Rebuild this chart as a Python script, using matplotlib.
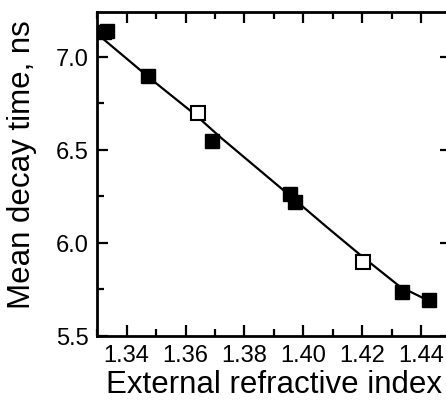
import matplotlib
matplotlib.use("Agg")
import matplotlib.pyplot as plt
from matplotlib.ticker import MultipleLocator, FixedLocator

plt.rcParams['font.family'] = ['Liberation Sans', 'DejaVu Sans']

# Filled squares
x_filled = [1.3325, 1.3335, 1.3472, 1.3689, 1.3954, 1.3971, 1.4333, 1.4427]
y_filled = [7.13, 7.14, 6.895, 6.545, 6.265, 6.22, 5.738, 5.695]
# Open squares
x_open = [1.3643, 1.4203]
y_open = [6.695, 5.897]
# Fit line
x_fit = [1.3325, 1.3485, 1.3632, 1.3717, 1.3950, 1.4079, 1.4202, 1.4327, 1.4430]
y_fit = [7.09, 6.877, 6.69, 6.569, 6.259, 6.085, 5.923, 5.765, 5.685]

xticks = [1.34, 1.36, 1.38, 1.40, 1.42, 1.44]
xticklabels = ["1.34", "1.36", "1.38", "1.40", "1.42", "1.44"]
yticks = [5.5, 6.0, 6.5, 7.0]
yticklabels = ["5.5", "6.0", "6.5", "7.0"]

fig = plt.figure(figsize=(4.46, 4.02), dpi=100)
ax = fig.add_axes([97/446, 1-337/402, (451-97)/446, (337-13)/402])

ax.plot(x_fit, y_fit, color='black', lw=1.6, zorder=2)
ax.plot(x_filled, y_filled, 's', color='black', ms=10.5, mec='black', zorder=3)
ax.plot(x_open, y_open, 's', mfc='white', mec='black', ms=10, mew=1.5, zorder=3)

ax.set_xlim(1.33, 1.45)
ax.set_ylim(5.5, 7.24)
ax.xaxis.set_major_locator(FixedLocator(xticks))
ax.set_xticklabels(xticklabels)
ax.xaxis.set_minor_locator(MultipleLocator(0.01))
ax.yaxis.set_major_locator(FixedLocator(yticks))
ax.set_yticklabels(yticklabels)
ax.yaxis.set_minor_locator(MultipleLocator(0.25))

for s in ax.spines.values():
    s.set_linewidth(2)

ax.tick_params(axis='both', which='major', direction='in', length=8, width=1.6,
               labelsize=17, pad=6)
ax.tick_params(axis='both', which='minor', direction='in', length=5, width=1.6)
ax.tick_params(axis='x', which='both', top=True, bottom=True)
ax.tick_params(axis='y', which='major', left=True, right=True)
ax.tick_params(axis='y', which='minor', left=True, right=False)

ax.set_xlabel("External refractive index", fontsize=22.5, labelpad=2)
ax.set_ylabel("Mean decay time, ns", fontsize=22.5)
ax.yaxis.set_label_coords(-(97-37)/354, (337-165)/324)

fig.savefig("out.png", dpi=100)
